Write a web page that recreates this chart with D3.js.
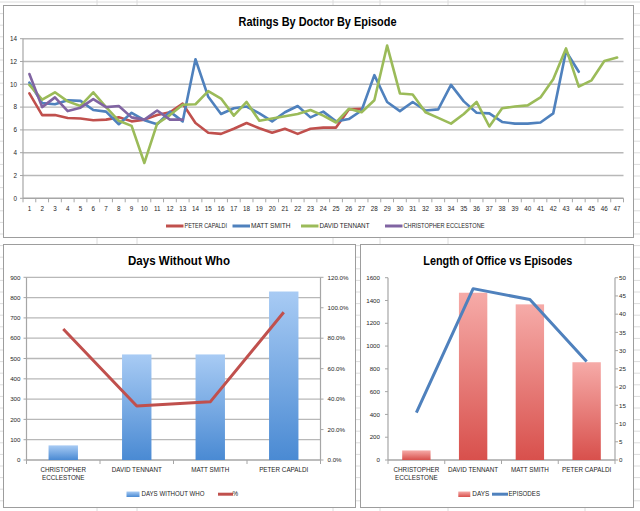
<!DOCTYPE html>
<html>
<head>
<meta charset="utf-8">
<script src="https://cdn.jsdelivr.net/npm/d3@7"></script>
<style>
  body { margin: 0; background: #fff; }
  svg { display: block; }
  text { font-family: "Liberation Sans", Arial, sans-serif; fill: #262626; }
</style>
</head>
<body>
<svg id="chart" width="640" height="511"></svg>
<script>
// ---------------- DATA ----------------
const episodeLabels = ["1","2","3","4","5","6","7","8","9","10","11","12","13","14","15","16","17","18","19","20",
  "21","22","23","24","25","26","27","28","29","30","31","32","33","34","35","36","37","38","39","40",
  "41","42","43","44","45","46","47"];
const ratingTicks = [0, 2, 4, 6, 8, 10, 12, 14];

const capaldiRatings = [9.2,7.3,7.3,7.05,7.0,6.85,6.9,7.1,6.75,6.9,
  7.3,7.55,8.3,6.6,5.75,5.65,6.1,6.6,6.15,5.75,
  6.1,5.65,6.1,6.2,6.2,7.8,7.85];
const smithRatings = [10.15,8.35,8.25,8.6,8.55,7.75,7.6,6.5,7.5,6.85,
  6.5,7.6,6.75,12.2,8.9,7.4,7.9,8.05,7.45,6.75,
  7.55,8.1,7.1,7.6,6.75,6.95,7.7,10.8,8.45,7.65,
  8.45,7.7,7.8,9.95,8.5,7.5,7.45,6.7,6.55,6.55,
  6.65,7.45,12.9,11.1];
const tennantRatings = [9.95,8.65,9.3,8.5,8.1,9.3,8.0,6.8,6.35,3.1,
  6.55,7.3,8.2,8.25,9.4,8.75,7.25,8.45,6.8,7.0,
  7.2,7.4,7.75,7.25,6.65,7.85,7.55,8.6,13.4,9.2,
  9.1,7.55,7.05,6.55,7.4,8.45,6.3,7.9,8.05,8.15,
  8.85,10.45,13.15,9.8,10.35,12.05,12.35];
const ecclestonRatings = [10.9,8.0,8.85,7.65,7.95,8.7,8.0,8.1,7.1,6.9,7.7,6.9,6.9];

const ratingSeriesNames = ["PETER CAPALDI", "MATT SMITH", "DAVID TENNANT", "CHRISTOPHER ECCLESTONE"];
const ratingSeriesColors = ["#C0504D", "#4F81BD", "#9BBB59", "#8064A2"];

const doctorNames = ["CHRISTOPHER ECCLESTONE", "DAVID TENNANT", "MATT SMITH", "PETER CAPALDI"];
const daysWithoutWho = [72, 520, 520, 830];
const pctWithoutWho = [0.86, 0.355, 0.382, 0.97];
const daysTicks = [0, 100, 200, 300, 400, 500, 600, 700, 800, 900];
const pctTicks = [0, 0.2, 0.4, 0.6, 0.8, 1.0, 1.2];

const daysInOffice = [84, 1468, 1366, 858];
const episodeCounts = [13, 47, 44, 27];
const officeTicks = [0, 200, 400, 600, 800, 1000, 1200, 1400, 1600];
const episodeTicks = [0, 5, 10, 15, 20, 25, 30, 35, 40, 45, 50];

// ---------------- SETUP ----------------
const svg = d3.select("#chart");
const axisColor = "#a6a6a6";
const gridColor = "#b8b8b8";

const defs = svg.append("defs");
const gBlue = defs.append("linearGradient").attr("id", "blueBar").attr("x1", 0).attr("y1", 0).attr("x2", 0).attr("y2", 1);
gBlue.append("stop").attr("offset", 0).attr("stop-color", "#a8cbf4");
gBlue.append("stop").attr("offset", 1).attr("stop-color", "#4a8ad3");
const gRed = defs.append("linearGradient").attr("id", "redBar").attr("x1", 0).attr("y1", 0).attr("x2", 0).attr("y2", 1);
gRed.append("stop").attr("offset", 0).attr("stop-color", "#f6aba8");
gRed.append("stop").attr("offset", 1).attr("stop-color", "#d8504c");

// spreadsheet background grid
svg.append("rect").attr("width", 640).attr("height", 511).attr("fill", "#fff");
const bg = svg.append("g");
d3.range(2, 511, 11.6).forEach(y => {
  bg.append("line").attr("x1", 0).attr("x2", 640).attr("y1", y).attr("y2", y)
    .attr("stroke", "#dcdcdc").attr("stroke-width", 1);
});
[97, 137, 333, 380, 448, 585].forEach(x => {
  bg.append("line").attr("x1", x).attr("x2", x).attr("y1", 0).attr("y2", 511)
    .attr("stroke", "#dcdcdc").attr("stroke-width", 1);
});

function panel(x, y, w, h) {
  svg.append("rect").attr("x", x + 0.5).attr("y", y + 0.5).attr("width", w).attr("height", h)
    .attr("fill", "#fff").attr("stroke", "#9d9d9d").attr("stroke-width", 1);
}
panel(3, 5, 630, 232);
panel(3, 244, 352, 263);
panel(360, 244, 273, 263);

function title(text, cx, y, len) {
  svg.append("text").attr("x", cx).attr("y", y).attr("text-anchor", "middle")
    .attr("font-weight", "bold").attr("font-size", 12)
    .attr("textLength", len).attr("lengthAdjust", "spacingAndGlyphs")
    .style("fill", "#000").text(text);
}

// ---------------- TOP: RATINGS ----------------
const xTop = d3.scaleBand().domain(episodeLabels).range([23, 623.5]);
const yTop = d3.scaleLinear().domain([0, 14]).range([198.3, 38.7]);
const topG = svg.append("g");

title("Ratings By Doctor By Episode", 317.5, 25.5, 158);

ratingTicks.forEach(t => {
  topG.append("line").attr("x1", xTop.range()[0]).attr("x2", xTop.range()[1])
    .attr("y1", yTop(t)).attr("y2", yTop(t))
    .attr("stroke", t === 0 ? axisColor : gridColor).attr("stroke-width", 1.4);
  topG.append("line").attr("x1", xTop.range()[0] - 3).attr("x2", xTop.range()[0])
    .attr("y1", yTop(t)).attr("y2", yTop(t)).attr("stroke", axisColor);
  topG.append("text").attr("x", 17).attr("y", yTop(t) + 2.2).attr("text-anchor", "end")
    .attr("font-size", 6.3).text(t);
});
topG.append("line").attr("x1", xTop.range()[0]).attr("x2", xTop.range()[0])
  .attr("y1", yTop(14)).attr("y2", yTop(0)).attr("stroke", axisColor).attr("stroke-width", 1.2);
episodeLabels.forEach(lab => {
  topG.append("line").attr("x1", xTop(lab)).attr("x2", xTop(lab))
    .attr("y1", yTop(0)).attr("y2", yTop(0) + 4).attr("stroke", axisColor);
  topG.append("text").attr("x", xTop(lab) + xTop.bandwidth() / 2).attr("y", 210.5)
    .attr("text-anchor", "middle").attr("font-size", 6.3).text(lab);
});
topG.append("line").attr("x1", xTop.range()[1]).attr("x2", xTop.range()[1])
  .attr("y1", yTop(0)).attr("y2", yTop(0) + 4).attr("stroke", axisColor);

const topLine = d3.line()
  .x((d, i) => xTop(episodeLabels[i]) + xTop.bandwidth() / 2)
  .y(d => yTop(d));
[capaldiRatings, smithRatings, tennantRatings, ecclestonRatings].forEach((series, k) => {
  topG.append("path").attr("d", topLine(series)).attr("fill", "none")
    .attr("stroke", ratingSeriesColors[k]).attr("stroke-width", 2.6)
    .attr("stroke-linejoin", "round").attr("stroke-linecap", "round");
});

// legend
const topLegendX = [166, 232.5, 301, 385];
const topLegendLen = [42.5, 39.5, 50, 81];
ratingSeriesNames.forEach((name, k) => {
  const lx = topLegendX[k];
  topG.append("line").attr("x1", lx).attr("x2", lx + 17.5).attr("y1", 226).attr("y2", 226)
    .attr("stroke", ratingSeriesColors[k]).attr("stroke-width", 3);
  topG.append("text").attr("x", lx + 18.5).attr("y", 228.2).attr("font-size", 6.3)
    .attr("textLength", topLegendLen[k]).attr("lengthAdjust", "spacingAndGlyphs").text(name);
});

// ---------------- helpers for category labels ----------------
function categoryLabels(g, xScale, yBase) {
  doctorNames.forEach(name => {
    const cx = xScale(name) + xScale.bandwidth() / 2;
    const parts = name.length > 16 ? name.split(" ") : [name];
    parts.forEach((p, i) => {
      g.append("text").attr("x", cx).attr("y", yBase + i * 8.4).attr("text-anchor", "middle")
        .attr("font-size", 6.3).text(p);
    });
  });
}

// ---------------- BOTTOM LEFT: DAYS WITHOUT WHO ----------------
const xL = d3.scaleBand().domain(doctorNames).range([26.5, 320.5]);
const yL = d3.scaleLinear().domain([0, 900]).range([460, 277.3]);
const yLR = d3.scaleLinear().domain([0, 1.2]).range([460, 277.3]);
const lg = svg.append("g");

title("Days Without Who", 179, 264.5, 102);

daysTicks.forEach(t => {
  lg.append("line").attr("x1", xL.range()[0]).attr("x2", xL.range()[1])
    .attr("y1", yL(t)).attr("y2", yL(t))
    .attr("stroke", t === 0 ? axisColor : gridColor).attr("stroke-width", 1.3);
  lg.append("line").attr("x1", xL.range()[0] - 3).attr("x2", xL.range()[0])
    .attr("y1", yL(t)).attr("y2", yL(t)).attr("stroke", axisColor);
  lg.append("text").attr("x", 20.5).attr("y", yL(t) + 2.2).attr("text-anchor", "end")
    .attr("font-size", 6.2).text(t);
});
lg.append("line").attr("x1", xL.range()[0]).attr("x2", xL.range()[0])
  .attr("y1", yL(900)).attr("y2", yL(0)).attr("stroke", axisColor).attr("stroke-width", 1.2);
lg.append("line").attr("x1", xL.range()[1]).attr("x2", xL.range()[1])
  .attr("y1", yLR(1.2)).attr("y2", yLR(0)).attr("stroke", axisColor).attr("stroke-width", 1.2);
const pctFmt = d3.format(".1%");
pctTicks.forEach(t => {
  lg.append("line").attr("x1", xL.range()[1]).attr("x2", xL.range()[1] + 3)
    .attr("y1", yLR(t)).attr("y2", yLR(t)).attr("stroke", axisColor);
  lg.append("text").attr("x", 327.5).attr("y", yLR(t) + 2.2).attr("font-size", 6.2).text(pctFmt(t));
});
doctorNames.forEach(n => {
  lg.append("line").attr("x1", xL(n)).attr("x2", xL(n)).attr("y1", yL(0)).attr("y2", yL(0) + 4).attr("stroke", axisColor);
});
lg.append("line").attr("x1", xL.range()[1]).attr("x2", xL.range()[1]).attr("y1", yL(0)).attr("y2", yL(0) + 4).attr("stroke", axisColor);

const lBarW = xL.bandwidth() * 0.4;
lg.selectAll("rect.bar").data(daysWithoutWho).enter().append("rect")
  .attr("x", (d, i) => xL(doctorNames[i]) + xL.bandwidth() / 2 - lBarW / 2)
  .attr("y", d => yL(d)).attr("width", lBarW).attr("height", d => yL(0) - yL(d))
  .attr("fill", "url(#blueBar)");
lg.append("path")
  .attr("d", d3.line().x((d, i) => xL(doctorNames[i]) + xL.bandwidth() / 2).y(d => yLR(d))(pctWithoutWho))
  .attr("fill", "none").attr("stroke", "#C0504D").attr("stroke-width", 3).attr("stroke-linejoin", "round");

categoryLabels(lg, xL, 471.5);

lg.append("rect").attr("x", 126.5).attr("y", 491.5).attr("width", 13).attr("height", 5.5).attr("fill", "url(#blueBar)");
lg.append("text").attr("x", 141.5).attr("y", 496.4).attr("font-size", 6.3)
  .attr("textLength", 63).attr("lengthAdjust", "spacingAndGlyphs").text("DAYS WITHOUT WHO");
lg.append("line").attr("x1", 218).attr("x2", 233).attr("y1", 494.2).attr("y2", 494.2)
  .attr("stroke", "#C0504D").attr("stroke-width", 3);
lg.append("text").attr("x", 232.5).attr("y", 496.4).attr("font-size", 6.3).text("%");

// ---------------- BOTTOM RIGHT: LENGTH OF OFFICE ----------------
const xR = d3.scaleBand().domain(doctorNames).range([388, 615]);
const yR = d3.scaleLinear().domain([0, 1600]).range([460, 277.7]);
const yRR = d3.scaleLinear().domain([0, 50]).range([460, 277.7]);
const rg = svg.append("g");

title("Length of Office vs Episodes", 497.8, 264.5, 149);

rg.append("line").attr("x1", xR.range()[0]).attr("x2", xR.range()[1]).attr("y1", yR(0)).attr("y2", yR(0))
  .attr("stroke", axisColor).attr("stroke-width", 1.3);
rg.append("line").attr("x1", xR.range()[0]).attr("x2", xR.range()[0]).attr("y1", yR(1600)).attr("y2", yR(0))
  .attr("stroke", axisColor).attr("stroke-width", 1.2);
rg.append("line").attr("x1", xR.range()[1]).attr("x2", xR.range()[1]).attr("y1", yRR(50)).attr("y2", yRR(0))
  .attr("stroke", axisColor).attr("stroke-width", 1.2);
officeTicks.forEach(t => {
  rg.append("line").attr("x1", xR.range()[0] - 3).attr("x2", xR.range()[0]).attr("y1", yR(t)).attr("y2", yR(t)).attr("stroke", axisColor);
  rg.append("text").attr("x", 380).attr("y", yR(t) + 2.2).attr("text-anchor", "end").attr("font-size", 6.2).text(t);
});
episodeTicks.forEach(t => {
  rg.append("line").attr("x1", xR.range()[1]).attr("x2", xR.range()[1] + 3).attr("y1", yRR(t)).attr("y2", yRR(t)).attr("stroke", axisColor);
  rg.append("text").attr("x", 619).attr("y", yRR(t) + 2.2).attr("font-size", 6.2).text(t);
});
doctorNames.forEach(n => {
  rg.append("line").attr("x1", xR(n)).attr("x2", xR(n)).attr("y1", yR(0)).attr("y2", yR(0) + 4).attr("stroke", axisColor);
});
rg.append("line").attr("x1", xR.range()[1]).attr("x2", xR.range()[1]).attr("y1", yR(0)).attr("y2", yR(0) + 4).attr("stroke", axisColor);

const rBarW = xR.bandwidth() * 0.5;
rg.selectAll("rect.bar").data(daysInOffice).enter().append("rect")
  .attr("x", (d, i) => xR(doctorNames[i]) + xR.bandwidth() / 2 - rBarW / 2)
  .attr("y", d => yR(d)).attr("width", rBarW).attr("height", d => yR(0) - yR(d))
  .attr("fill", "url(#redBar)");
rg.append("path")
  .attr("d", d3.line().x((d, i) => xR(doctorNames[i]) + xR.bandwidth() / 2).y(d => yRR(d))(episodeCounts))
  .attr("fill", "none").attr("stroke", "#4F81BD").attr("stroke-width", 3).attr("stroke-linejoin", "round");

categoryLabels(rg, xR, 471.5);

rg.append("rect").attr("x", 458.3).attr("y", 491.5).attr("width", 12).attr("height", 5.5).attr("fill", "url(#redBar)");
rg.append("text").attr("x", 472.3).attr("y", 496.4).attr("font-size", 6.3)
  .attr("textLength", 17).attr("lengthAdjust", "spacingAndGlyphs").text("DAYS");
rg.append("line").attr("x1", 492).attr("x2", 508).attr("y1", 494.2).attr("y2", 494.2)
  .attr("stroke", "#4F81BD").attr("stroke-width", 3);
rg.append("text").attr("x", 508.5).attr("y", 496.4).attr("font-size", 6.3)
  .attr("textLength", 31.5).attr("lengthAdjust", "spacingAndGlyphs").text("EPISODES");
</script>
</body>
</html>
